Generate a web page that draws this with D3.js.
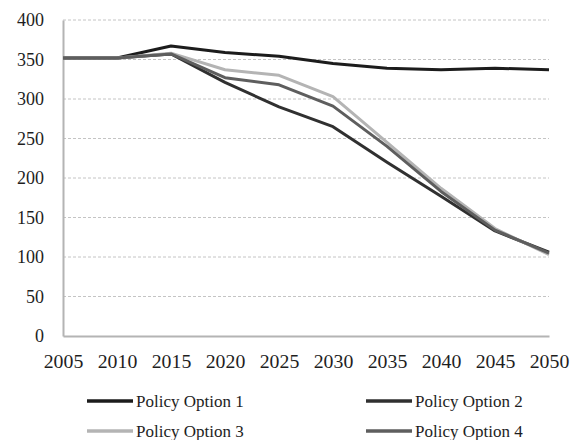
<!DOCTYPE html>
<html>
<head>
<meta charset="utf-8">
<script src="https://cdn.jsdelivr.net/npm/d3@7"></script>
</head>
<body style="margin:0; background:#fff">
<div id="chart"></div>
<script>
// Data
const years = [2005, 2010, 2015, 2020, 2025, 2030, 2035, 2040, 2045, 2050];
const option1 = [352, 352, 367, 359, 354, 345, 339, 337, 339, 337];
const option2 = [352, 352, 357, 321, 290, 265, 220, 177, 133, 106];
const option3 = [352, 352, 358, 337, 330, 303, 245, 187, 136, 103];
const option4 = [352, 352, 357, 327, 318, 291, 240, 183, 134, 105];
const seriesNames = ["Policy Option 1", "Policy Option 2", "Policy Option 3", "Policy Option 4"];
const yTicks = [0, 50, 100, 150, 200, 250, 300, 350, 400];

const series = [option1, option2, option3, option4];
const colors = ["#1c1c1c", "#303030", "#b4b4b4", "#5e5e5e"];
const serif = "'Liberation Serif'";

const svgWidth = 570, svgHeight = 440;
const margin = {top: 20, right: 21, bottom: 104, left: 63},
      width = svgWidth - margin.left - margin.right,
      height = svgHeight - margin.top - margin.bottom;

const svg = d3.select("#chart").append("svg")
  .attr("width", svgWidth)
  .attr("height", svgHeight);

const g = svg.append("g")
  .attr("transform", "translate(" + margin.left + "," + margin.top + ")");

const x = d3.scaleLinear().domain([2005, 2050]).range([0, width]);
const y = d3.scaleLinear().domain([0, 400]).range([height, 0]);

// dashed gridlines
g.append("g")
  .selectAll("line")
  .data(yTicks.filter(d => d > 0))
  .enter().append("line")
    .attr("x1", 0).attr("x2", width)
    .attr("y1", d => y(d)).attr("y2", d => y(d))
    .attr("stroke", "#c4c4c4")
    .attr("stroke-width", 1)
    .attr("stroke-dasharray", "3,2");

// y axis
const yAxis = g.append("g")
  .call(d3.axisLeft(y).tickValues(yTicks).tickSize(0).tickPadding(19));
yAxis.select(".domain").attr("stroke", "#b4b4b4").attr("stroke-width", 2);
yAxis.selectAll("text")
  .style("font-family", serif)
  .style("font-size", "18px")
  .style("fill", "#1e1e1e");

// x axis
const xAxis = g.append("g")
  .attr("transform", "translate(0," + height + ")")
  .call(d3.axisBottom(x).tickValues(years).tickFormat(d3.format("d")).tickSize(0).tickPadding(19));
xAxis.select(".domain").attr("stroke", "#b4b4b4").attr("stroke-width", 2);
xAxis.selectAll("text")
  .style("font-family", serif)
  .style("font-size", "18px")
  .style("fill", "#1e1e1e")
  .attr("transform", "scale(1.1,1)");

// lines
const line = d3.line()
  .x((d, i) => x(years[i]))
  .y(d => y(d));

g.selectAll(".series")
  .data(series)
  .enter().append("path")
    .attr("class", "series")
    .attr("fill", "none")
    .attr("stroke", (d, i) => colors[i])
    .attr("stroke-width", 3)
    .attr("stroke-linejoin", "round")
    .attr("d", line);

// legend
const legendPos = [[87, 401], [366, 401], [87, 431], [366, 431]];
const legend = svg.selectAll(".legend")
  .data(seriesNames)
  .enter().append("g")
    .attr("class", "legend")
    .attr("transform", (d, i) => "translate(" + legendPos[i][0] + "," + legendPos[i][1] + ")");

legend.append("line")
  .attr("x1", 0).attr("x2", 46)
  .attr("y1", 0).attr("y2", 0)
  .attr("stroke", (d, i) => colors[i])
  .attr("stroke-width", 3.5);

legend.append("text")
  .attr("x", 49)
  .attr("y", 0)
  .attr("dy", "0.35em")
  .style("font-family", serif)
  .style("font-size", "17px")
  .style("fill", "#1e1e1e")
  .text(d => d);
</script>
</body>
</html>
